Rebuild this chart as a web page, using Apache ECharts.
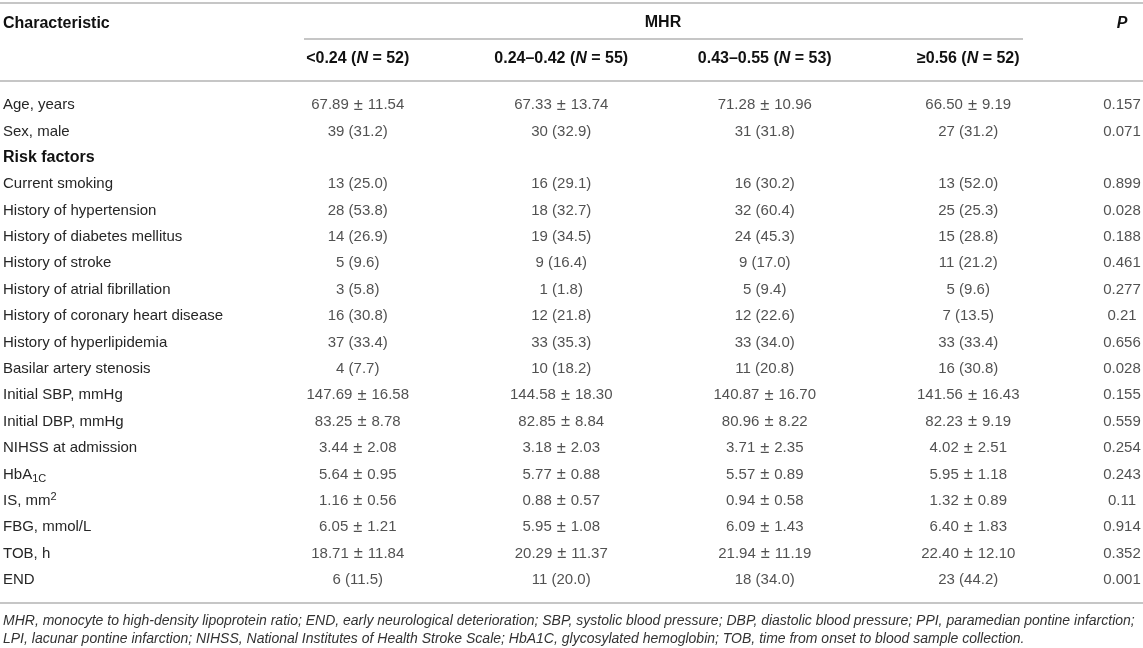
<!DOCTYPE html>
<html>
<head>
<meta charset="utf-8">
<script src="https://cdn.jsdelivr.net/npm/echarts@6/dist/echarts.min.js"></script>
<style>
html,body{margin:0;padding:0;background:#fff;}
#main{width:1143px;height:648px;}
</style>
</head>
<body>
<div id="main"></div>
<script>
// ---- data ----
var rowLabels = [
  'Age, years', 'Sex, male', 'Risk factors', 'Current smoking',
  'History of hypertension', 'History of diabetes mellitus', 'History of stroke',
  'History of atrial fibrillation', 'History of coronary heart disease',
  'History of hyperlipidemia', 'Basilar artery stenosis', 'Initial SBP, mmHg',
  'Initial DBP, mmHg', 'NIHSS at admission', 'HbA1C', 'IS, mm2',
  'FBG, mmol/L', 'TOB, h', 'END'
];
var groupHeaders = ['<0.24 (N = 52)', '0.24–0.42 (N = 55)', '0.43–0.55 (N = 53)', '≥0.56 (N = 52)'];
var groupA = ['67.89 ± 11.54','39 (31.2)','','13 (25.0)','28 (53.8)','14 (26.9)','5 (9.6)','3 (5.8)','16 (30.8)','37 (33.4)','4 (7.7)','147.69 ± 16.58','83.25 ± 8.78','3.44 ± 2.08','5.64 ± 0.95','1.16 ± 0.56','6.05 ± 1.21','18.71 ± 11.84','6 (11.5)'];
var groupB = ['67.33 ± 13.74','30 (32.9)','','16 (29.1)','18 (32.7)','19 (34.5)','9 (16.4)','1 (1.8)','12 (21.8)','33 (35.3)','10 (18.2)','144.58 ± 18.30','82.85 ± 8.84','3.18 ± 2.03','5.77 ± 0.88','0.88 ± 0.57','5.95 ± 1.08','20.29 ± 11.37','11 (20.0)'];
var groupC = ['71.28 ± 10.96','31 (31.8)','','16 (30.2)','32 (60.4)','24 (45.3)','9 (17.0)','5 (9.4)','12 (22.6)','33 (34.0)','11 (20.8)','140.87 ± 16.70','80.96 ± 8.22','3.71 ± 2.35','5.57 ± 0.89','0.94 ± 0.58','6.09 ± 1.43','21.94 ± 11.19','18 (34.0)'];
var groupD = ['66.50 ± 9.19','27 (31.2)','','13 (52.0)','25 (25.3)','15 (28.8)','11 (21.2)','5 (9.6)','7 (13.5)','33 (33.4)','16 (30.8)','141.56 ± 16.43','82.23 ± 9.19','4.02 ± 2.51','5.95 ± 1.18','1.32 ± 0.89','6.40 ± 1.83','22.40 ± 12.10','23 (44.2)'];
var pValues = ['0.157','0.071','','0.899','0.028','0.188','0.461','0.277','0.21','0.656','0.028','0.155','0.559','0.254','0.243','0.11','0.914','0.352','0.001'];
var footnote = 'MHR, monocyte to high-density lipoprotein ratio; END, early neurological deterioration; SBP, systolic blood pressure; DBP, diastolic blood pressure; PPI, paramedian pontine infarction;\nLPI, lacunar pontine infarction; NIHSS, National Institutes of Health Stroke Scale; HbA1C, glycosylated hemoglobin; TOB, time from onset to blood sample collection.';

// ---- build ----
var FONT = '"Liberation Sans", Arial, Helvetica, sans-serif';
var BODY = '#262626';
var HEAD = '#111';
var groups = [groupA, groupB, groupC, groupD];
var cellData = [];
groups.forEach(function (g, j) {
  g.forEach(function (v, i) { if (v !== '') cellData.push([j, i, v]); });
});
var pData = [];
pValues.forEach(function (v, i) { if (v !== '') pData.push([0, i, v]); });

function rowFmt(v) {
  if (v === 'Risk factors') return '{b|Risk factors}';
  if (v === 'HbA1C') return '{n|HbA}{sub|1C}';
  if (v === 'IS, mm2') return '{n|IS, mm}{sup|2}';
  return '{n|' + v + '}';
}
function headFmt(v) {
  var m = v.match(/^(.*\()N( = .*)$/);
  return '{b|' + m[1] + '}{bi|N}{b|' + m[2] + '}';
}
function cellFmt(p) {
  var s = p.value[2];
  var k = s.indexOf(' ± ');
  if (k < 0) return '{v|' + s + '}';
  return '{v|' + s.slice(0, k) + '}{pm|±}{v|' + s.slice(k + 3) + '}';
}
var cellRich = {
  v: {fontFamily: FONT, fontSize: 15, color: BODY},
  pm: {fontFamily: FONT, fontSize: 16.5, color: BODY, padding: [0, 5, 0, 5]}
};

var gridTop = 91.8, gridBottom = 54.8;
var chart = echarts.init(document.getElementById('main'), null, {renderer: 'canvas'});
var lineStyle = {stroke: '#b3b3b3', lineWidth: 1.5};
chart.setOption({
  animation: false,
  backgroundColor: '#fff',
  title: [
    {text: 'Characteristic', left: 3, top: 15, padding: 0,
     textStyle: {fontFamily: FONT, fontSize: 16, fontWeight: 'bold', color: HEAD, lineHeight: 18}},
    {text: footnote, left: 3, top: 612, padding: 0,
     textStyle: {fontFamily: FONT, fontSize: 14, fontStyle: 'italic', fontWeight: 'normal', color: '#333', lineHeight: 18}}
  ],
  grid: [
    {left: 256, right: 73, top: gridTop, bottom: gridBottom},
    {left: 1101, right: 0, top: gridTop, bottom: gridBottom}
  ],
  xAxis: [
    {type: 'category', gridIndex: 0, position: 'top', data: groupHeaders,
     name: 'MHR', nameLocation: 'middle', nameGap: 69,
     nameTextStyle: {fontFamily: FONT, fontSize: 16, fontWeight: 'bold', color: HEAD, verticalAlign: 'middle'},
     axisLine: {show: false}, axisTick: {show: false}, splitLine: {show: false},
     axisLabel: {margin: 33, verticalAlign: 'middle', formatter: headFmt,
       rich: {b: {fontFamily: FONT, fontSize: 16, fontWeight: 'bold', color: HEAD},
              bi: {fontFamily: FONT, fontSize: 16, fontWeight: 'bold', fontStyle: 'italic', color: HEAD}}}},
    {type: 'category', gridIndex: 1, position: 'top', data: ['P'],
     axisLine: {show: false}, axisTick: {show: false}, splitLine: {show: false},
     axisLabel: {margin: 68, verticalAlign: 'middle', fontFamily: FONT, fontSize: 16,
       fontWeight: 'bold', fontStyle: 'italic', color: HEAD}}
  ],
  yAxis: [
    {type: 'category', gridIndex: 0, inverse: true, data: rowLabels,
     axisLine: {show: false}, axisTick: {show: false}, splitLine: {show: false},
     axisLabel: {align: 'left', margin: 253, formatter: rowFmt,
       rich: {n: {fontFamily: FONT, fontSize: 15, color: BODY},
              b: {fontFamily: FONT, fontSize: 16, fontWeight: 'bold', color: HEAD},
              sub: {fontFamily: FONT, fontSize: 11, color: BODY, padding: [9, 0, 0, 0]},
              sup: {fontFamily: FONT, fontSize: 11, color: BODY, padding: [0, 0, 7, 0]}}}},
    {type: 'category', gridIndex: 1, inverse: true, data: rowLabels, show: false}
  ],
  series: [
    {type: 'scatter', xAxisIndex: 0, yAxisIndex: 0, data: cellData, silent: true,
     symbolSize: 1, itemStyle: {color: 'rgba(0,0,0,0)'},
     label: {show: true, position: 'inside', formatter: cellFmt, rich: cellRich}},
    {type: 'scatter', xAxisIndex: 1, yAxisIndex: 1, data: pData, silent: true,
     symbolSize: 1, itemStyle: {color: 'rgba(0,0,0,0)'},
     label: {show: true, position: 'inside', formatter: cellFmt, rich: cellRich}}
  ],
  graphic: [
    {type: 'line', shape: {x1: 0, y1: 3, x2: 1143, y2: 3}, style: lineStyle, silent: true},
    {type: 'line', shape: {x1: 304, y1: 39, x2: 1023, y2: 39}, style: lineStyle, silent: true},
    {type: 'line', shape: {x1: 0, y1: 81, x2: 1143, y2: 81}, style: lineStyle, silent: true},
    {type: 'line', shape: {x1: 0, y1: 603, x2: 1143, y2: 603}, style: lineStyle, silent: true}
  ]
});
</script>
</body>
</html>
